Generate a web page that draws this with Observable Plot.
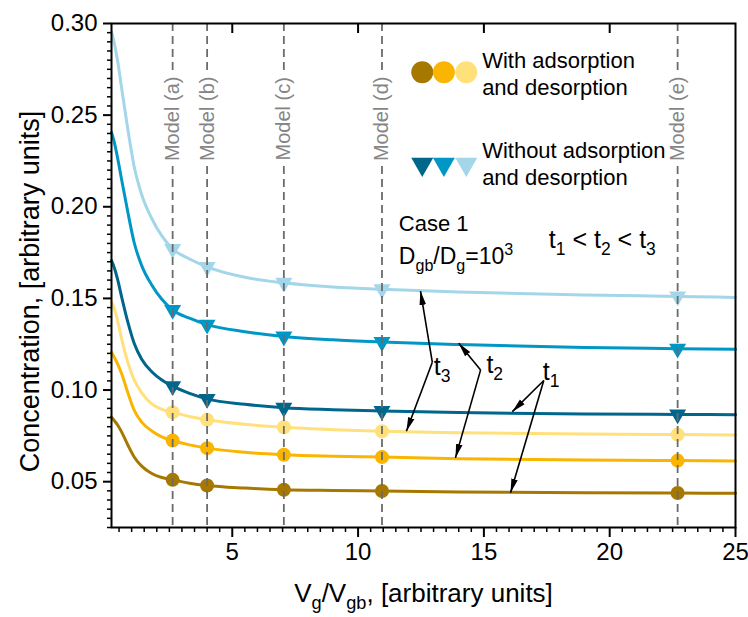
<!DOCTYPE html>
<html><head><meta charset="utf-8">
<script src="https://cdn.jsdelivr.net/npm/d3@7"></script>
<script src="https://cdn.jsdelivr.net/npm/@observablehq/plot@0.6"></script>
<style>
html,body{margin:0;padding:0;background:#fff;}
#chart svg text{paint-order:stroke;}
</style></head><body><div id="chart"></div>
<script>
// ---------- data ----------
const xGrid = [0.2,0.3,0.45,0.6,0.85,1.1,1.4,1.8,2.2,2.63,3.3,4,5.5,7.05,9,10.95,14,19,22.7,25];
const withT1 = [.0852,.0835,.0808,.0772,.0700,.0635,.0585,.0545,.0523,.0510,.0492,.0479,.0465,.0456,.0452,.0449,.0444,.0440,.0438,.0437];
const withT2 = [.1206,.1182,.1140,.1090,.0985,.0890,.0825,.0777,.0745,.0725,.0701,.0683,.0660,.0647,.0639,.0634,.0625,.0618,.0615,.0613];
const withT3 = [.1479,.1450,.1375,.1280,.1150,.1055,.0985,.0925,.0895,.0879,.0856,.0838,.0813,.0797,.0784,.0775,.0767,.0760,.0757,.0755];
const withoutT1 = [.1706,.1672,.1600,.1510,.1370,.1255,.1168,.1100,.1055,.1021,.0982,.0952,.0922,.0903,.0893,.0886,.0877,.0869,.0867,.0865];
const withoutT2 = [.2406,.2358,.2261,.2150,.1970,.1805,.1679,.1573,.1495,.1437,.1392,.1357,.1318,.1292,.1274,.1262,.1248,.1232,.1226,.1222];
const withoutT3 = [.2955,.2900,.2790,.2650,.2422,.2220,.2066,.1936,.1841,.1770,.1715,.1672,.1615,.1585,.1562,.1550,.1535,.1518,.1511,.1505];

const withColors = ["#a67800", "#f9b500", "#ffe07b"];
const withoutColors = ["#00668c", "#0097c6", "#a4d6ea"];

const modelX = [2.63, 4, 7.05, 10.95, 22.7];
const modelLabels = ["Model (a)", "Model (b)", "Model (c)", "Model (d)", "Model (e)"];
const modelLabelY = 0.248;

const xTicks = [5, 10, 15, 20, 25];
const yTicks = [0.05, 0.10, 0.15, 0.20, 0.25, 0.30];
const xTitle = "Vg/Vgb, [arbitrary units]";
const yTitle = "Concentration, [arbitrary units]";

// annotation arrows (data coordinates): from label vertex to curve
const arrowFrom = [[12.95,0.1152],[12.95,0.1152],[14.87,0.1110],[14.87,0.1110],[17.38,0.1052],[17.38,0.1052]];
const arrowTo   = [[12.48,0.1540],[11.92,0.0775],[14.00,0.1255],[13.87,0.0630],[16.13,0.0882],[16.06,0.0440]];
const timeLabels = ["t3", "t2", "t1"];
const timeLabelPos = [[13.01,0.1128],[15.10,0.1137],[17.34,0.1100]];

const noteTexts = ["Case 1", "Dgb/Dg=103", "t1 < t2 < t3"];
const notePos = [[11.62,0.1907],[11.62,0.1727],[17.58,0.1818]];
const noteSizes = [22, 23, 25];

const legendX = [12.55, 13.41, 14.30];
const legendTextX = 14.93;
const legendWithY = 0.2734, legendWithoutY = 0.2232;
const legendWithText = ["With adsorption", "and desorption"];
const legendWithTextY = [0.2793, 0.2650];
const legendWithoutText = ["Without adsorption", "and desorption"];
const legendWithoutTextY = [0.2302, 0.2157];

// ---------- layout ----------
const W = 748, H = 617, mL = 111, mR = 13, mT = 23, mB = 90;
const xDom = [0.2, 25], yDom = [0.025, 0.30];
const uY = (yDom[1]-yDom[0])/(H-mT-mB);  // data units per px
const uX = (xDom[1]-xDom[0])/(W-mL-mR);

const triDown = { draw(ctx, size) { const r = Math.sqrt(size/Math.PI); const h = 1.75*r;
  ctx.moveTo(-r, -h/3); ctx.lineTo(r, -h/3); ctx.lineTo(0, 2*h/3); ctx.closePath(); } };

function arrowHead(color) {
  const m = d3.create("svg:marker").attr("viewBox","-14 -4 14 8").attr("markerWidth",14).attr("markerHeight",8)
    .attr("markerUnits","userSpaceOnUse").attr("refX",0).attr("refY",0).attr("orient","auto");
  m.append("path").attr("d","M-14,-3.3L0,0L-14,3.3Z").attr("fill","black").attr("stroke","none");
  return m.node();
}

const withSeries = [withT1, withT2, withT3];
const withoutSeries = [withoutT1, withoutT2, withoutT3];
const toPts = vals => xGrid.map((x, i) => ({x, y: vals[i]}));
const markerPts = vals => modelX.map(mx => ({x: mx, y: vals[xGrid.indexOf(mx)]}));

const xMinor = d3.range(0.5, 25, 0.5).filter(v => !xTicks.includes(v));
const yMinor = d3.range(0.025, 0.3001, 0.005).map(v => +v.toFixed(3)).filter(v => Math.round(v*1000) % 50 !== 0);

const FONT = "Liberation Sans, Arial, sans-serif";
const marks = [];
// curves
[...withSeries.map((s,i)=>[s,withColors[i]]), ...withoutSeries.map((s,i)=>[s,withoutColors[i]])].forEach(([s,c]) => {
  marks.push(Plot.line(toPts(s), {x: "x", y: "y", stroke: c, strokeWidth: 3, curve: "monotone-x"}));
});
withSeries.forEach((s,i) => marks.push(Plot.dot(markerPts(s), {x: "x", y: "y", fill: withColors[i], r: 7})));
withoutSeries.forEach((s,i) => marks.push(Plot.dot(markerPts(s), {x: "x", y: "y", fill: withoutColors[i], r: 8.5, symbol: triDown})));
// model lines and labels
marks.push(Plot.ruleX(modelX, {stroke: "#6b6b6b", strokeWidth: 1.8, strokeDasharray: "8,5"}));
marks.push(Plot.text(modelLabels, {x: (d,i) => modelX[i], y: () => modelLabelY, text: d => d, rotate: -90,
  fill: "#858585", stroke: "white", strokeWidth: 9, fontSize: 20, fontFamily: FONT}));
// annotation arrows
marks.push(Plot.link(arrowFrom.map((f,i)=>({x1:f[0],y1:f[1],x2:arrowTo[i][0],y2:arrowTo[i][1]})),
  {x1:"x1", y1:"y1", x2:"x2", y2:"y2", stroke: "black", strokeWidth: 1.6, markerEnd: arrowHead}));
marks.push(Plot.text(timeLabels, {x: (d,i)=>timeLabelPos[i][0], y: (d,i)=>timeLabelPos[i][1], text: d=>d, textAnchor: "start", fontSize: 25, fill: "black"}));
noteTexts.forEach((t,i) => marks.push(Plot.text([t], {x: ()=>notePos[i][0], y: ()=>notePos[i][1], text: d=>d, textAnchor: "start", fontSize: noteSizes[i], fill: "black"})));
// legend
withColors.forEach((c,i)=>marks.push(Plot.dot([legendX[i]], {x: d=>d, y: ()=>legendWithY, r: 11, fill: c})));
withoutColors.forEach((c,i)=>marks.push(Plot.dot([legendX[i]], {x: d=>d, y: ()=>legendWithoutY, r: 11, fill: c, symbol: triDown})));
marks.push(Plot.text(legendWithText, {x: ()=>legendTextX, y: (d,i)=>legendWithTextY[i], text: d=>d, textAnchor: "start", fontSize: 22}));
marks.push(Plot.text(legendWithoutText, {x: ()=>legendTextX, y: (d,i)=>legendWithoutTextY[i], text: d=>d, textAnchor: "start", fontSize: 22}));
// ticks
marks.push(Plot.ruleX(xTicks, {y1: yDom[0], y2: yDom[0]-10*uY, stroke: "black", strokeWidth: 2}));
marks.push(Plot.ruleX(xMinor, {y1: yDom[0], y2: yDom[0]-5*uY, stroke: "black", strokeWidth: 1.5}));
marks.push(Plot.ruleX(xTicks.slice(0,4), {y1: yDom[1], y2: yDom[1]-10*uY, stroke: "black", strokeWidth: 2}));
marks.push(Plot.ruleY(yTicks, {x1: xDom[0], x2: xDom[0]-8*uX, stroke: "black", strokeWidth: 2}));
marks.push(Plot.ruleY(yMinor, {x1: xDom[0], x2: xDom[0]-4*uX, stroke: "black", strokeWidth: 1.5}));
// titles
marks.push(Plot.text([xTitle], {frameAnchor: "bottom", dy: 74, text: d=>d, fontSize: 26}));
marks.push(Plot.text([yTitle], {x: () => xDom[0] - 81*uX, y: () => yDom[1] - 268*uY, rotate: -90, text: d=>d, fontSize: 27}));
marks.push(Plot.frame({stroke: "black", strokeWidth: 2}));

const chart = Plot.plot({
  width: W, height: H, marginLeft: mL, marginRight: mR, marginTop: mT, marginBottom: mB,
  style: {fontFamily: FONT, fontSize: "24px", color: "black", background: "white", overflow: "visible"},
  x: {domain: xDom, ticks: xTicks, tickSize: 0, tickPadding: 15, tickFormat: d => String(d), label: null},
  y: {domain: yDom, ticks: yTicks, tickSize: 0, tickPadding: 14, tickFormat: d => d.toFixed(2), label: null},
  marks
});
document.getElementById("chart").appendChild(chart);

// rich text (subscripts / superscripts)
function rich(key, parts) {
  d3.select(chart).selectAll("text").filter(function(){ return this.textContent === key; }).each(function(){
    const fs = parseFloat(getComputedStyle(this).fontSize) || 20;
    const el = d3.select(this); el.text(null);
    let shift = 0;
    for (const [s, kind] of parts) {
      const target = kind === "sub" ? 0.28*fs : kind === "sup" ? -0.42*fs : 0;
      const ts = el.append("tspan").text(s);
      if (kind) ts.attr("font-size", (0.7*fs) + "px");
      if (target - shift !== 0) ts.attr("dy", (target - shift) + "px");
      shift = target;
    }
  });
}
rich(xTitle, [["V"],["g","sub"],["/V"],["gb","sub"],[", [arbitrary units]"]]);
rich("Dgb/Dg=103", [["D"],["gb","sub"],["/D"],["g","sub"],["=10"],["3","sup"]]);
rich("t1 < t2 < t3", [["t"],["1","sub"],[" < t"],["2","sub"],[" < t"],["3","sub"]]);
rich("t1", [["t"],["1","sub"]]);
rich("t2", [["t"],["2","sub"]]);
rich("t3", [["t"],["3","sub"]]);
</script></body></html>
